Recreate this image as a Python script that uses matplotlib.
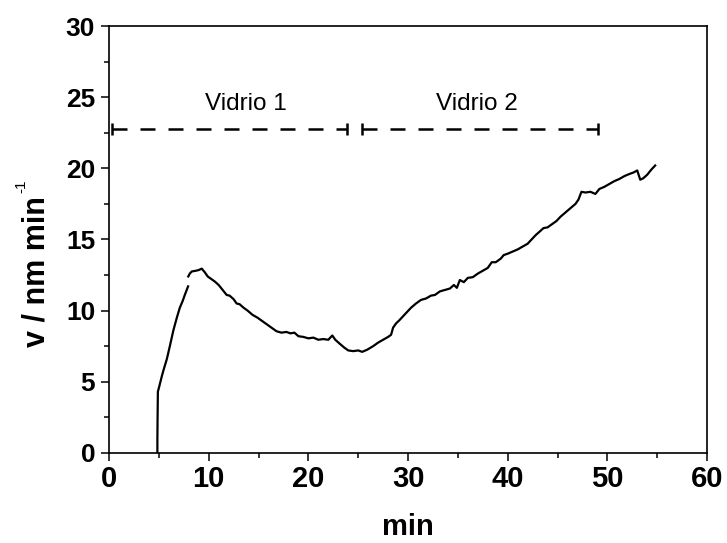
import numpy as np
import matplotlib.pyplot as plt
from matplotlib.ticker import MultipleLocator

plt.rcParams['font.family'] = ['Liberation Sans', 'DejaVu Sans']
plt.rcParams['font.weight'] = 'bold'

# first part of the run (steep rise), then the main record
t_rise = [4.85, 4.85, 4.87, 4.9, 5.05, 5.3, 5.5, 5.8, 6.1, 6.45, 6.8, 7.1, 7.4, 7.6, 7.93]
v_rise = [0.0, 1.0, 2.5, 4.3, 4.7, 5.4, 5.9, 6.6, 7.5, 8.6, 9.5, 10.2, 10.7, 11.1, 11.7]

t_main = [7.95, 8.1, 8.3, 8.7, 9.0, 9.3, 9.6, 9.9, 10.2, 10.6, 11.0, 11.4, 11.8, 12.1,
          12.5, 12.8, 13.1, 13.5, 13.9, 14.4, 14.9, 15.4, 15.9, 16.4, 16.8, 17.3, 17.8,
          18.2, 18.6, 19.0, 19.5, 20.0, 20.5, 21.0, 21.5, 22.0, 22.4, 22.7, 23.1, 23.6,
          24.0, 24.5, 25.0, 25.4, 25.9, 26.5, 27.0, 27.5, 28.0, 28.3, 28.5, 28.8, 29.1,
          29.5, 29.9, 30.3, 30.8, 31.3, 31.8, 32.3, 32.7, 33.2, 33.7, 34.2, 34.6, 34.9,
          35.2, 35.6, 36.0, 36.5, 37.0, 37.5, 38.0, 38.4, 38.8, 39.3, 39.6, 40.0, 40.5,
          41.0, 41.5, 42.0, 42.4, 42.8, 43.2, 43.6, 44.0, 44.5, 44.9, 45.3, 45.8, 46.3,
          46.8, 47.1, 47.4, 47.8, 48.3, 48.8, 49.2, 49.7, 50.2, 50.7, 51.2, 51.7, 52.2,
          52.6, 53.0, 53.3, 53.6, 54.0, 54.4, 54.8]
v_main = [12.4, 12.6, 12.75, 12.8, 12.85, 12.95, 12.7, 12.4, 12.25, 12.05, 11.8, 11.45,
          11.1, 11.05, 10.8, 10.5, 10.45, 10.2, 10.0, 9.7, 9.5, 9.25, 9.0, 8.75, 8.55,
          8.45, 8.5, 8.4, 8.45, 8.2, 8.15, 8.05, 8.1, 7.95, 8.0, 7.95, 8.25, 7.95, 7.7,
          7.4, 7.2, 7.15, 7.2, 7.1, 7.25, 7.5, 7.75, 7.95, 8.15, 8.3, 8.8, 9.1, 9.3, 9.6,
          9.9, 10.2, 10.5, 10.75, 10.85, 11.05, 11.1, 11.35, 11.45, 11.55, 11.8, 11.6,
          12.15, 12.0, 12.3, 12.35, 12.6, 12.8, 13.0, 13.4, 13.4, 13.65, 13.9, 14.0, 14.15,
          14.3, 14.5, 14.7, 15.0, 15.3, 15.55, 15.8, 15.85, 16.1, 16.3, 16.6, 16.9, 17.2,
          17.5, 17.8, 18.35, 18.3, 18.35, 18.2, 18.55, 18.7, 18.9, 19.1, 19.25, 19.45,
          19.6, 19.7, 19.85, 19.2, 19.3, 19.55, 19.9, 20.2]

# substrate intervals
glass_names = ['Vidrio 1', 'Vidrio 2']
glass_start = [0.27, 25.4]
glass_end = [23.9, 49.1]
glass_label_x = [13.7, 36.9]
glass_level = 22.75

fig = plt.figure(figsize=(7.27, 5.43), dpi=100)
ax = fig.add_axes([0.15, 0.166, 0.8225, 0.786])

ax.plot(t_rise, v_rise, color='black', lw=1.6)
ax.plot(t_main, v_main, color='black', lw=1.6)

for name, t0, t1, tx in zip(glass_names, glass_start, glass_end, glass_label_x):
    ax.plot([t0, t1], [glass_level, glass_level], color='black', lw=1.8,
            dashes=(6, 5.2), dash_capstyle='butt')
    ax.plot([t0, t1], [glass_level, glass_level], ls='none', marker='|',
            ms=8, mew=1.8, color='black')
    ax.text(tx, 24.1, name, ha='center', va='baseline',
            fontsize=17.5, fontweight='normal')

ax.set_xlim(0, 60)
ax.set_ylim(0, 30)
ax.xaxis.set_major_locator(MultipleLocator(10))
ax.xaxis.set_minor_locator(MultipleLocator(5))
ax.yaxis.set_major_locator(MultipleLocator(5))
ax.yaxis.set_minor_locator(MultipleLocator(2.5))

ax.tick_params(which='both', direction='out', top=False, right=False, width=1.1)
ax.tick_params(which='major', length=6)
ax.tick_params(which='minor', length=3.6)
ax.tick_params(axis='x', labelsize=21, pad=3)
ax.tick_params(axis='y', labelsize=19, pad=4)
for lab in ax.get_xticklabels() + ax.get_yticklabels():
    lab.set_fontweight('bold')
for sp in ax.spines.values():
    sp.set_linewidth(1.2)

ax.set_xlabel('min', fontsize=21, fontweight='bold', labelpad=14)
ax.set_ylabel('v / nm min', fontsize=22, fontweight='bold')
ax.yaxis.set_label_coords(-0.097, 0.425)
# small superscript of the unit
fig.text(21 / 727, 1 - 186 / 543, '-1', rotation=90, ha='center', va='center',
         fontsize=11, fontweight='normal')

fig.savefig('out.png', dpi=100)
